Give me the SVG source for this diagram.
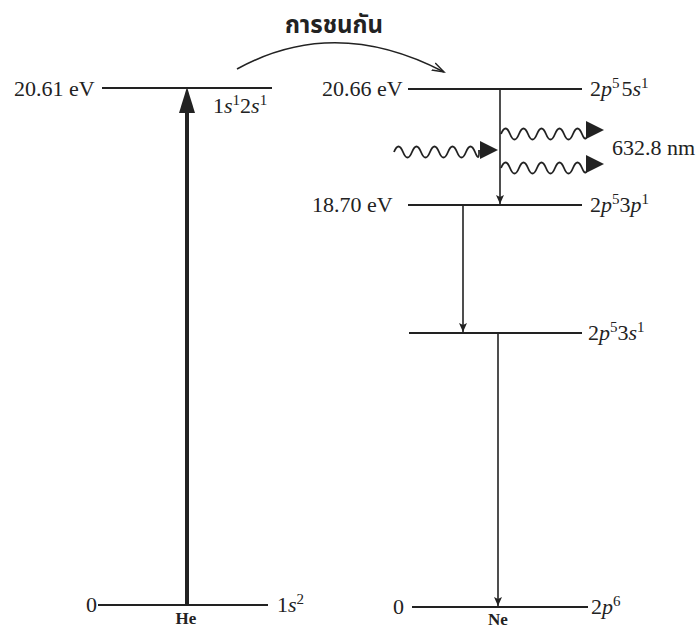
<svg xmlns="http://www.w3.org/2000/svg" width="696" height="629" viewBox="0 0 696 629">
<style>
.lv{stroke:#222;stroke-width:2;fill:none}
.ln{stroke:#222;stroke-width:1.6;fill:none}
.wv{stroke:#222;stroke-width:1.8;fill:none}
text{font-family:"Liberation Serif","Times New Roman",serif;font-size:22px;fill:#222}
.it{font-style:italic}
.sup{font-size:15px}
.th{font-family:"Noto Sans Thai","Noto Sans","DejaVu Sans",sans-serif;font-size:24px;font-weight:bold}
.at{font-size:17px;font-weight:bold}
</style>
<defs>
<marker id="ah" markerWidth="10" markerHeight="10" refX="9" refY="5" orient="auto" markerUnits="userSpaceOnUse">
<path d="M0,1 L9,5 L0,9 L2,5 Z" fill="#222"/>
</marker>
<marker id="oa" markerWidth="14" markerHeight="10" refX="12" refY="5" orient="auto" markerUnits="userSpaceOnUse">
<path d="M0,1 L12,5 L0,9" fill="none" stroke="#222" stroke-width="1.4"/>
</marker>
</defs>
<rect width="696" height="629" fill="#fff"/>
<g id="title"><text class="th" x="334" y="33" text-anchor="middle">การชนกัน</text></g>
<g id="he-excited">
<line class="lv" x1="102" y1="88" x2="272" y2="88"/>
<text x="14" y="96">20.61 eV</text>
<text x="213" y="113">1<tspan class="it">s</tspan><tspan class="sup" dy="-8">1</tspan><tspan dy="8">2</tspan><tspan class="it">s</tspan><tspan class="sup" dy="-8">1</tspan></text>
</g>
<g id="he-ground">
<line class="lv" x1="98" y1="605" x2="268" y2="605"/>
<text x="86" y="612">0</text>
<text x="277" y="612">1<tspan class="it">s</tspan><tspan class="sup" dy="-8">2</tspan></text>
<text class="at" x="186" y="624" text-anchor="middle">He</text>
</g>
<g id="ne-5s">
<line class="lv" x1="408" y1="89" x2="582" y2="89"/>
<text x="322" y="96">20.66 eV</text>
<text x="590" y="96">2<tspan class="it">p</tspan><tspan class="sup" dy="-8">5</tspan><tspan dy="8" dx="2">5</tspan><tspan class="it">s</tspan><tspan class="sup" dy="-8">1</tspan></text>
</g>
<g id="ne-3p">
<line class="lv" x1="408" y1="205" x2="582" y2="205"/>
<text x="312" y="212">18.70 eV</text>
<text x="590" y="212">2<tspan class="it">p</tspan><tspan class="sup" dy="-8">5</tspan><tspan dy="8">3</tspan><tspan class="it">p</tspan><tspan class="sup" dy="-8">1</tspan></text>
</g>
<g id="ne-3s">
<line class="lv" x1="409" y1="333" x2="582" y2="333"/>
<text x="588" y="340">2<tspan class="it">p</tspan><tspan class="sup" dy="-8">5</tspan><tspan dy="8">3</tspan><tspan class="it">s</tspan><tspan class="sup" dy="-8">1</tspan></text>
</g>
<g id="ne-ground">
<line class="lv" x1="412" y1="607" x2="588" y2="607"/>
<text x="393" y="614">0</text>
<text x="591" y="614">2<tspan class="it">p</tspan><tspan class="sup" dy="-8">6</tspan></text>
<text class="at" x="498" y="625" text-anchor="middle">Ne</text>
</g>
<g id="label-632"><text x="612" y="155">632.8 nm</text></g>
<g id="connectors">
<line x1="187" y1="605" x2="187" y2="110" stroke="#222" stroke-width="4"/>
<path d="M187,87 L195,113 L179,113 Z" fill="#222"/>
<path class="ln" d="M237,69 Q335,15 444,72" marker-end="url(#oa)"/>
<line class="ln" x1="500" y1="89" x2="500" y2="204" marker-end="url(#ah)"/>
<line class="ln" x1="463" y1="205" x2="463" y2="332" marker-end="url(#ah)"/>
<line class="ln" x1="498" y1="333" x2="498" y2="606" marker-end="url(#ah)"/>
<path class="wv" d="M394,152 q4.5,-11 9,0 t9,0 t9,0 t9,0 t9,0 t9,0 t9,0 t9,0 t9,0 t4,-2"/>
<path d="M498,150 L480,141 L480,159 Z" fill="#222"/>
<path class="wv" d="M501,134 q4.5,-11 9,0 t9,0 t9,0 t9,0 t9,0 t9,0 t9,0 t9,0 t9,0 t6,-4"/>
<path d="M604,130 L586,121 L586,139 Z" fill="#222"/>
<path class="wv" d="M501,168 q4.5,-11 9,0 t9,0 t9,0 t9,0 t9,0 t9,0 t9,0 t9,0 t9,0 t6,-4"/>
<path d="M604,164 L586,155 L586,173 Z" fill="#222"/>
</g>
</svg>
